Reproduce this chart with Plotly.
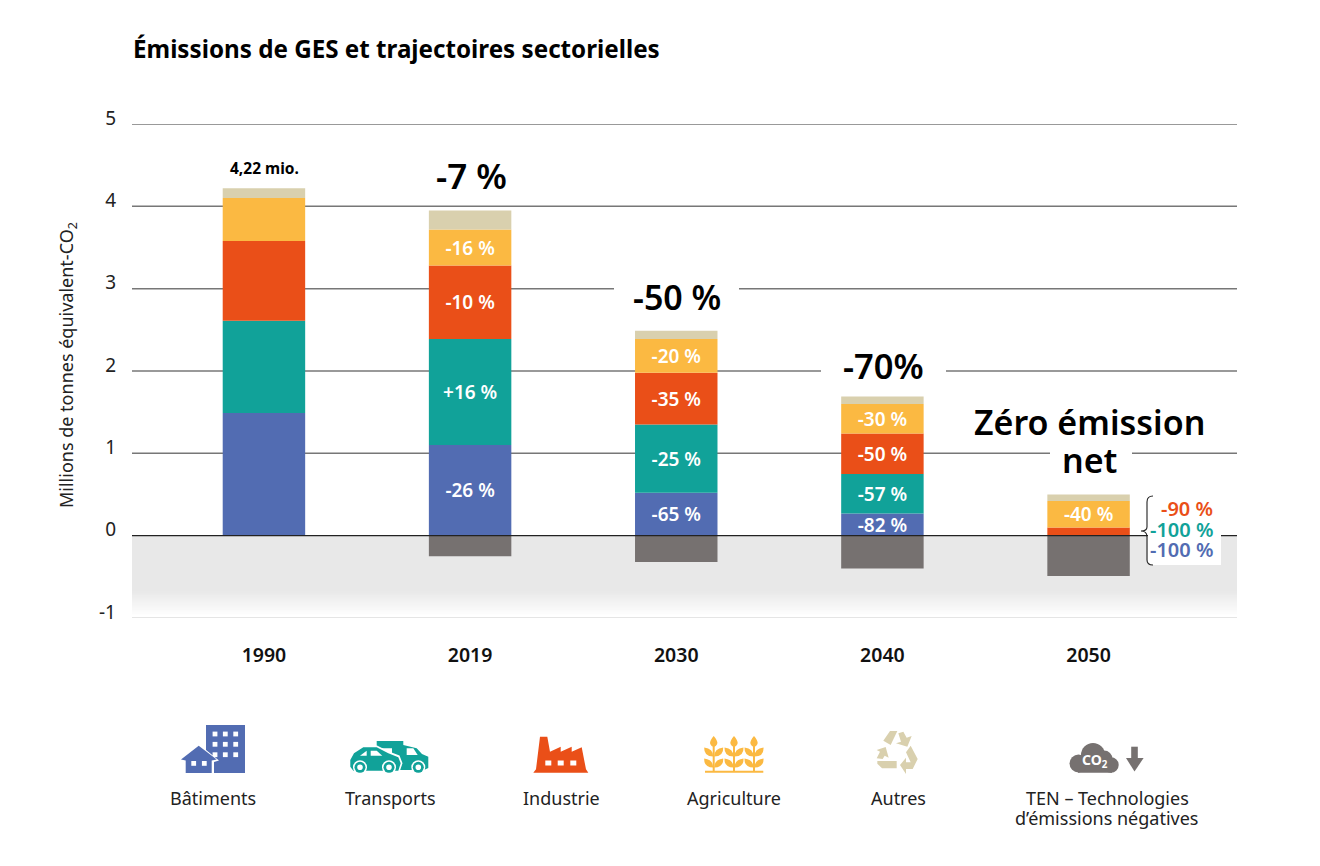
import plotly.graph_objects as go

# ---- data ----
years = ["1990", "2019", "2030", "2040", "2050"]
batiments = [1.49, 1.10, 0.52, 0.27, 0.0]
transports = [1.12, 1.29, 0.83, 0.48, 0.0]
industrie = [0.97, 0.89, 0.63, 0.49, 0.10]
agriculture = [0.52, 0.44, 0.41, 0.36, 0.32]
autres = [0.12, 0.23, 0.10, 0.09, 0.08]
ten = [0.0, -0.25, -0.32, -0.40, -0.49]

lab_batiments = [None, "-26 %", "-65 %", "-82 %", None]
lab_transports = [None, "+16 %", "-25 %", "-57 %", None]
lab_industrie = [None, "-10 %", "-35 %", "-50 %", None]
lab_agriculture = [None, "-16 %", "-20 %", "-30 %", "-40 %"]

y_ticks = [-1, 0, 1, 2, 3, 4, 5]
y_tick_text = ["-1", "0", "1", "2", "3", "4", "5"]
FONT = "Noto Sans, sans-serif"
BLUE, TEAL, RED, YEL, BEI, GRY = "#526cb2", "#11a299", "#ea4f18", "#fbb942", "#d9d0ae", "#767170"

W, H = 1320, 866
L, R, T, B = 132, 1237, 124, 618
def px(x): return (x - L) / (R - L)
def py(y): return (B - y) / (B - T)

fig = go.Figure()
series = [("Bâtiments", batiments, BLUE, lab_batiments),
          ("Transports", transports, TEAL, lab_transports),
          ("Industrie", industrie, RED, lab_industrie),
          ("Agriculture", agriculture, YEL, lab_agriculture),
          ("Autres", autres, BEI, None),
          ("TEN", ten, GRY, None)]
for name, vals, col, labs in series:
    fig.add_trace(go.Bar(x=years, y=vals, name=name, marker=dict(color=col, line=dict(width=0)),
                         width=0.4, text=labs, textposition="inside" if labs else None,
                         insidetextanchor="middle", constraintext="none", textangle=0,
                         textfont=dict(color="white", size=19, family=FONT, weight=600),
                         hoverinfo="x+y"))

shapes = []
# shaded negative band, fading out towards the bottom
shapes.append(dict(type="rect", xref="paper", yref="y", x0=0, x1=1, y0=-1, y1=0,
                   fillcolor="#e8e8e8", line_width=0, layer="below"))
steps = 24
for i in range(steps):
    f = (i + 1) / steps
    v = round(232 + (255 - 232) * f)
    shapes.append(dict(type="rect", xref="paper", yref="y", x0=0, x1=1, y0=-1, y1=-0.68 - i * 0.30 / steps,
                       fillcolor=f"rgb({v},{v},{v})", line_width=0, layer="below"))
for t in y_ticks:
    shapes.append(dict(type="line", xref="paper", yref="y", x0=0, x1=1, y0=t, y1=t,
                       line=dict(color="#dcdcdc" if t == -1 else ("#222222" if t == 0 else "#777777"),
                                 width=1.5 if t != 0 else 1.2),
                       layer="between" if t != 0 else "above"))

def ppath(cmds, color):
    out = []
    for c in cmds:
        out.append(c if isinstance(c, str) else f"{px(c[0]):.5f},{py(c[1]):.5f}")
    return dict(type="path", xref="paper", yref="paper", path=" ".join(out), fillcolor=color,
                line=dict(width=0, color=color), layer="above")

def poly(pts, color):
    cmds = []
    for i, p in enumerate(pts):
        cmds += ["M" if i == 0 else "L", p]
    cmds.append("Z")
    return ppath(cmds, color)

def rect(x0, y0, x1, y1, color):
    return poly([(x0, y0), (x1, y0), (x1, y1), (x0, y1)], color)

def circ(cx, cy, r, color):
    return dict(type="circle", xref="paper", yref="paper", x0=px(cx - r), x1=px(cx + r),
                y0=py(cy + r), y1=py(cy - r), fillcolor=color, line_width=0, layer="above")

# white masks that interrupt the gridlines behind the big labels
shapes.append(rect(614, 276, 739, 322, "white"))
shapes.append(rect(821, 350, 946, 385, "white"))
shapes.append(rect(1050, 444, 1132, 480, "white"))

# --- icons ---
# Batiments
shapes.append(rect(206, 725, 245, 773, BLUE))
for yy in (734, 744.3, 754.7):
    for xx in (215, 225.3, 235.7):
        shapes.append(rect(xx - 2.4, yy - 2.4, xx + 2.4, yy + 2.4, "white"))
shapes.append(poly([(179, 760.5), (198.7, 744), (219, 760.5), (214, 762), (214, 775), (184, 775), (184, 762)], "white"))
shapes.append(poly([(181, 759.5), (198.7, 745.7), (216.7, 759.5), (211.7, 760.5), (211.7, 773), (185.7, 773), (185.7, 760.5)], BLUE))
for xx in (193.7, 204.3):
    shapes.append(rect(xx - 2.4, 761, xx + 2.4, 765.8, "white"))
# Transports
shapes.append(poly([(376.7, 741), (403.3, 741), (403.3, 745), (416.7, 748.3), (422, 754), (428.3, 756.7), (428.3, 768),
                    (424, 770), (392, 770), (392, 748.3), (376.7, 748.3)], TEAL))
shapes.append(poly([(406.7, 748.3), (413.3, 748.3), (417.7, 755), (406.7, 755)], "white"))
shapes.append(circ(418.3, 767.3, 7, "white")); shapes.append(circ(418.3, 767.3, 5.5, TEAL)); shapes.append(circ(418.3, 767.3, 2.8, "white"))
shapes.append(poly([(352, 752), (363, 745.5), (377, 745.5), (389, 751.5), (399.5, 755.5), (402.5, 763.3), (399.5, 772), (352, 772)], "white"))
shapes.append(poly([(350.3, 760), (354, 753.3), (363.3, 747.3), (376.7, 747.3), (388.3, 753.3), (398.3, 757.3), (400.7, 763.3),
                    (398.3, 770.7), (353.3, 770.7), (350.3, 766.7)], TEAL))
shapes.append(poly([(360, 755.7), (366.7, 750.7), (366.7, 755.7)], "white"))
shapes.append(poly([(370.7, 750.7), (376.7, 750.7), (382.3, 755.7), (370.7, 755.7)], "white"))
for xx in (360, 389):
    shapes.append(circ(xx, 767.3, 7, "white")); shapes.append(circ(xx, 767.3, 5.5, TEAL)); shapes.append(circ(xx, 767.3, 2.8, "white"))
# Industrie
shapes.append(poly([(533.3, 772.7), (536, 769.3), (540, 736.7), (547.3, 736.7), (550, 751.7), (560.7, 746.7), (560.7, 751.7),
                    (571.7, 746.7), (571.7, 751.7), (581.7, 747.3), (586, 769.3), (588.3, 772.7)], RED))
for xx in (548.3, 560.7, 573.3):
    shapes.append(rect(xx - 3, 760.5, xx + 3, 765.5, "white"))
# Agriculture
shapes.append(rect(705, 770.7, 763.3, 772.7, YEL))
for cx in (713.7, 734, 754):
    shapes.append(rect(cx - 1, 745, cx + 1, 771, YEL))
    shapes.append(ppath(["M", (cx, 736), "Q", (cx + 4.5, 741), (cx + 3.5, 744), "Q", (cx + 2, 747), (cx, 747),
                         "Q", (cx - 2, 747), (cx - 3.5, 744), "Q", (cx - 4.5, 741), (cx, 736), "Z"], YEL))
    for y0 in (747.5, 758.5):
        shapes.append(ppath(["M", (cx + 0.5, y0 + 9), "Q", (cx + 0.5, y0 + 1), (cx + 9.5, y0),
                             "Q", (cx + 10, y0 + 9), (cx + 0.5, y0 + 9), "Z"], YEL))
        shapes.append(ppath(["M", (cx - 0.5, y0 + 9), "Q", (cx - 0.5, y0 + 1), (cx - 9.5, y0),
                             "Q", (cx - 10, y0 + 9), (cx - 0.5, y0 + 9), "Z"], YEL))
# Autres (recycling arrows)
def rc(X, Y): return (870 + X / 3, 725 + Y / 3)
shapes.append(poly([rc(*p) for p in [(40, 47), (60, 18), (82, 18), (62, 60)]], BEI))
shapes.append(poly([rc(*p) for p in [(85, 25), (100, 20), (110, 38), (125, 33), (112, 65), (78, 55), (93, 50)]], BEI))
shapes.append(poly([rc(*p) for p in [(122, 62), (143, 102), (128, 132), (108, 132), (108, 147), (90, 120), (108, 98), (108, 112), (122, 112), (108, 82)]], BEI))
shapes.append(poly([rc(*p) for p in [(47, 66), (56, 98), (44, 92), (38, 102), (20, 100), (30, 80), (20, 75)]], BEI))
shapes.append(poly([rc(*p) for p in [(22, 108), (80, 108), (80, 130), (36, 130), (22, 116)]], BEI))
# TEN (CO2 cloud + arrow)
shapes.append(rect(1078, 762, 1112, 772.7, GRY))
shapes.append(circ(1078.5, 763.5, 9, GRY))
shapes.append(circ(1093, 755, 12, GRY))
shapes.append(circ(1104, 759, 8.5, GRY))
shapes.append(circ(1111, 765, 7.7, GRY))
shapes.append(rect(1131.2, 746.7, 1137.8, 760, GRY))
shapes.append(poly([(1126, 758), (1143.6, 758), (1134.5, 771.5)], GRY))
# white box behind the brace labels, then the brace
shapes.append(rect(1148, 518, 1221, 565, "white"))
shapes.append(dict(type="path", xref="paper", yref="paper",
    path=(f"M {px(1153):.5f},{py(496):.5f} Q {px(1147):.5f},{py(496):.5f} {px(1147):.5f},{py(502):.5f} "
          f"L {px(1147):.5f},{py(527):.5f} Q {px(1147):.5f},{py(531):.5f} {px(1141):.5f},{py(531):.5f} "
          f"Q {px(1147):.5f},{py(531):.5f} {px(1147):.5f},{py(537):.5f} L {px(1147):.5f},{py(560):.5f} "
          f"Q {px(1147):.5f},{py(565):.5f} {px(1153):.5f},{py(565):.5f}"),
    line=dict(color="#222222", width=1.1), layer="above"))

def ann(text, x, y, size, color="black", weight=400, xanchor="center", angle=0):
    return dict(text=text, x=px(x), y=py(y), xref="paper", yref="paper", showarrow=False,
                font=dict(family=FONT, size=size, color=color, weight=weight),
                xanchor=xanchor, yanchor="middle", textangle=angle, borderpad=0)

anns = [
    ann("Émissions de GES et trajectoires sectorielles", 132, 48, 24.2, weight=700, xanchor="left"),
    ann("Millions de tonnes équivalent-CO<sub>2</sub>", 67, 365, 18, color="#222222", angle=-90),
    ann("4,22 mio.", 264, 168, 15.5, weight=700),
    ann("-7 %", 471, 175, 35, weight=600),
    ann("-50 %", 677, 297, 34, weight=600),
    ann("-70%", 883, 365, 34.5, weight=600),
    ann("Zéro émission", 1089, 422, 34, weight=600),
    ann("net", 1089, 460, 34, weight=600),
    ann("-90 %", 1214, 508, 20, color=RED, weight=600, xanchor="right"),
    ann("-100 %", 1214, 529, 20, color=TEAL, weight=600, xanchor="right"),
    ann("-100 %", 1214, 549, 20, color=BLUE, weight=600, xanchor="right"),
]
legend_labels = [("Bâtiments", 213), ("Transports", 390), ("Industrie", 561), ("Agriculture", 734), ("Autres", 898),
                 ("TEN – Technologies", 1107)]
for txt, xx in legend_labels:
    anns.append(ann(txt, xx, 798, 18, color="#222222"))
anns.append(ann("d’émissions négatives", 1106, 818, 18, color="#222222"))
anns.append(ann("CO<sub>2</sub>", 1095, 760, 14, color="white", weight=700))

fig.update_layout(
    width=W, height=H, barmode="relative", showlegend=False, plot_bgcolor="white", paper_bgcolor="white",
    margin=dict(l=L, r=W - R, t=T, b=H - B, autoexpand=False),
    font=dict(family=FONT, color="#222222"),
    xaxis=dict(range=[-0.64, 4.72], type="category", showline=False, ticks="", showgrid=False,
               tickfont=dict(size=19.5, family=FONT, color="#111111", weight=600), ticklabelstandoff=23),
    yaxis=dict(range=[-1, 5], tickvals=y_ticks, ticktext=y_tick_text, showgrid=False, zeroline=False, ticks="",
               showline=False, tickfont=dict(size=19, family=FONT, color="#222222"),
               ticklabelstandoff=15, ticklabelshift=-6),
    shapes=shapes, annotations=anns,
)
fig.write_html("out.html", config=dict(displayModeBar=False), post_script="document.body.style.margin='0';")
